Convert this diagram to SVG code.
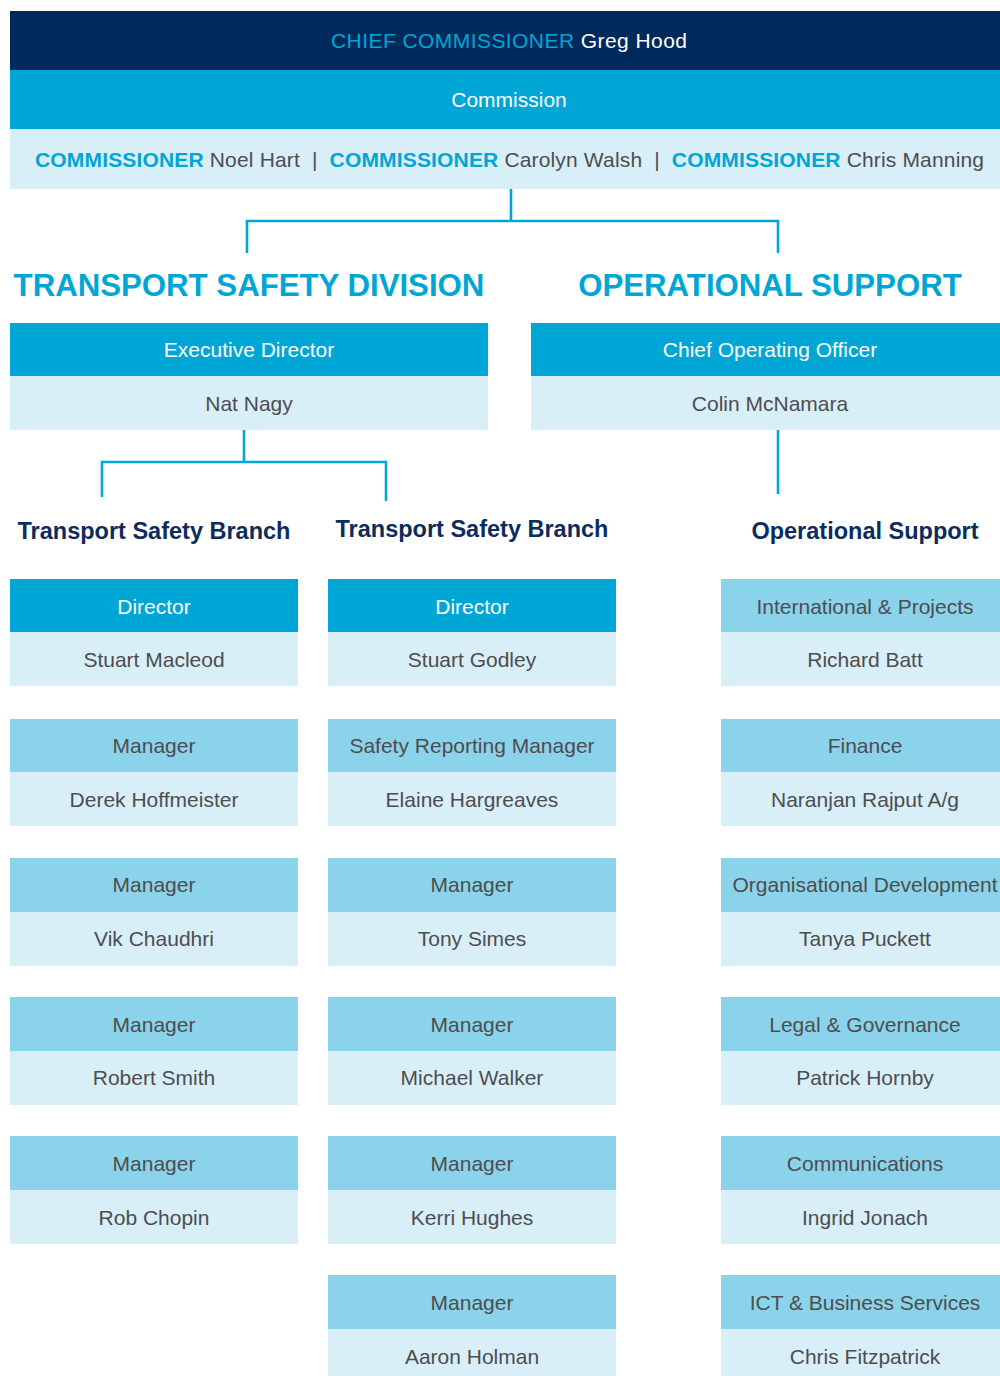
<svg xmlns="http://www.w3.org/2000/svg" width="1000" height="1376" viewBox="0 0 1000 1376">
  <style>
    text { font-family: "Liberation Sans", Arial, sans-serif; font-size: 21px; text-anchor: middle; }
    .navy { fill: #002A5C; }
    .cyan { fill: #00A6D6; }
    .mid { fill: #8BD3EA; }
    .pale { fill: #D9EFF8; }
    .w { fill: #FFFFFF; }
    .g { fill: #4D4D4F; }
    .c { fill: #00A6D6; }
    .b { font-weight: bold; }
    .h1 { font-size: 31.2px; font-weight: bold; fill: #00A6D6; }
    .h2 { font-size: 23.5px; font-weight: bold; fill: #0B2D5E; }
    .link { fill: none; stroke: #00A6D6; stroke-width: 2.6; }
  </style>

  <!-- Board -->
  <g id="chief-commissioner">
    <rect class="navy" x="10" y="11" width="990" height="59"/>
    <text x="331" y="48" style="text-anchor:start" textLength="356"><tspan class="c">CHIEF COMMISSIONER</tspan><tspan class="w"> Greg Hood</tspan></text>
  </g>
  <g id="commission">
    <rect class="cyan" x="10" y="70" width="990" height="59"/>
    <text class="w" x="509" y="107">Commission</text>
  </g>
  <g id="commissioners">
    <rect class="pale" x="10" y="129" width="990" height="60"/>
    <text x="35" y="167" style="text-anchor:start" textLength="949" xml:space="preserve"><tspan class="c b">COMMISSIONER</tspan><tspan class="g"> Noel Hart  |  </tspan><tspan class="c b">COMMISSIONER</tspan><tspan class="g"> Carolyn Walsh  |  </tspan><tspan class="c b">COMMISSIONER</tspan><tspan class="g"> Chris Manning</tspan></text>
  </g>

  <!-- Connectors -->
  <g id="connectors">
    <path class="link" d="M511,189 V221"/>
    <path class="link" d="M247,253 V221 H778 V253"/>
    <path class="link" d="M244,430 V462"/>
    <path class="link" d="M102,497 V462 H386 V501"/>
    <path class="link" d="M778,430 V494"/>
  </g>

  <!-- Divisions -->
  <g id="transport-safety-division">
    <text class="h1" x="249" y="296">TRANSPORT SAFETY DIVISION</text>
    <rect class="cyan" x="10" y="323" width="478" height="53"/>
    <text class="w" x="249" y="357">Executive Director</text>
    <rect class="pale" x="10" y="376" width="478" height="54"/>
    <text class="g" x="249" y="411">Nat Nagy</text>
  </g>
  <g id="operational-support">
    <text class="h1" x="770" y="296">OPERATIONAL SUPPORT</text>
    <rect class="cyan" x="531" y="323" width="469" height="53"/>
    <text class="w" x="770" y="357">Chief Operating Officer</text>
    <rect class="pale" x="531" y="376" width="469" height="54"/>
    <text class="g" x="770" y="411">Colin McNamara</text>
  </g>

  <!-- Branch headings -->
  <g id="branch-1-heading"><text class="h2" x="154" y="539">Transport Safety Branch</text></g>
  <g id="branch-2-heading"><text class="h2" x="472" y="537">Transport Safety Branch</text></g>
  <g id="ops-heading"><text class="h2" x="865" y="539">Operational Support</text></g>

  <!-- Branch 1 -->
  <g id="b1-director">
    <rect class="cyan" x="10" y="579" width="288" height="53"/>
    <text class="w" x="154" y="614">Director</text>
    <rect class="pale" x="10" y="632" width="288" height="54"/>
    <text class="g" x="154" y="667">Stuart Macleod</text>
  </g>
  <g id="b1-manager-1">
    <rect class="mid" x="10" y="719" width="288" height="53"/>
    <text class="g" x="154" y="753">Manager</text>
    <rect class="pale" x="10" y="772" width="288" height="54"/>
    <text class="g" x="154" y="807">Derek Hoffmeister</text>
  </g>
  <g id="b1-manager-2">
    <rect class="mid" x="10" y="858" width="288" height="54"/>
    <text class="g" x="154" y="892">Manager</text>
    <rect class="pale" x="10" y="912" width="288" height="54"/>
    <text class="g" x="154" y="946">Vik Chaudhri</text>
  </g>
  <g id="b1-manager-3">
    <rect class="mid" x="10" y="997" width="288" height="54"/>
    <text class="g" x="154" y="1032">Manager</text>
    <rect class="pale" x="10" y="1051" width="288" height="54"/>
    <text class="g" x="154" y="1085">Robert Smith</text>
  </g>
  <g id="b1-manager-4">
    <rect class="mid" x="10" y="1136" width="288" height="54"/>
    <text class="g" x="154" y="1171">Manager</text>
    <rect class="pale" x="10" y="1190" width="288" height="54"/>
    <text class="g" x="154" y="1225">Rob Chopin</text>
  </g>

  <!-- Branch 2 -->
  <g id="b2-director">
    <rect class="cyan" x="328" y="579" width="288" height="53"/>
    <text class="w" x="472" y="614">Director</text>
    <rect class="pale" x="328" y="632" width="288" height="54"/>
    <text class="g" x="472" y="667">Stuart Godley</text>
  </g>
  <g id="b2-safety-reporting">
    <rect class="mid" x="328" y="719" width="288" height="53"/>
    <text class="g" x="472" y="753">Safety Reporting Manager</text>
    <rect class="pale" x="328" y="772" width="288" height="54"/>
    <text class="g" x="472" y="807">Elaine Hargreaves</text>
  </g>
  <g id="b2-manager-1">
    <rect class="mid" x="328" y="858" width="288" height="54"/>
    <text class="g" x="472" y="892">Manager</text>
    <rect class="pale" x="328" y="912" width="288" height="54"/>
    <text class="g" x="472" y="946">Tony Simes</text>
  </g>
  <g id="b2-manager-2">
    <rect class="mid" x="328" y="997" width="288" height="54"/>
    <text class="g" x="472" y="1032">Manager</text>
    <rect class="pale" x="328" y="1051" width="288" height="54"/>
    <text class="g" x="472" y="1085">Michael Walker</text>
  </g>
  <g id="b2-manager-3">
    <rect class="mid" x="328" y="1136" width="288" height="54"/>
    <text class="g" x="472" y="1171">Manager</text>
    <rect class="pale" x="328" y="1190" width="288" height="54"/>
    <text class="g" x="472" y="1225">Kerri Hughes</text>
  </g>
  <g id="b2-manager-4">
    <rect class="mid" x="328" y="1275" width="288" height="54"/>
    <text class="g" x="472" y="1310">Manager</text>
    <rect class="pale" x="328" y="1329" width="288" height="47"/>
    <text class="g" x="472" y="1364">Aaron Holman</text>
  </g>

  <!-- Operational support units -->
  <g id="ops-international">
    <rect class="mid" x="721" y="579" width="279" height="53"/>
    <text class="g" x="865" y="614">International &amp; Projects</text>
    <rect class="pale" x="721" y="632" width="279" height="54"/>
    <text class="g" x="865" y="667">Richard Batt</text>
  </g>
  <g id="ops-finance">
    <rect class="mid" x="721" y="719" width="279" height="53"/>
    <text class="g" x="865" y="753">Finance</text>
    <rect class="pale" x="721" y="772" width="279" height="54"/>
    <text class="g" x="865" y="807">Naranjan Rajput A/g</text>
  </g>
  <g id="ops-org-development">
    <rect class="mid" x="721" y="858" width="279" height="54"/>
    <text class="g" x="865" y="892">Organisational Development</text>
    <rect class="pale" x="721" y="912" width="279" height="54"/>
    <text class="g" x="865" y="946">Tanya Puckett</text>
  </g>
  <g id="ops-legal">
    <rect class="mid" x="721" y="997" width="279" height="54"/>
    <text class="g" x="865" y="1032">Legal &amp; Governance</text>
    <rect class="pale" x="721" y="1051" width="279" height="54"/>
    <text class="g" x="865" y="1085">Patrick Hornby</text>
  </g>
  <g id="ops-communications">
    <rect class="mid" x="721" y="1136" width="279" height="54"/>
    <text class="g" x="865" y="1171">Communications</text>
    <rect class="pale" x="721" y="1190" width="279" height="54"/>
    <text class="g" x="865" y="1225">Ingrid Jonach</text>
  </g>
  <g id="ops-ict">
    <rect class="mid" x="721" y="1275" width="279" height="54"/>
    <text class="g" x="865" y="1310">ICT &amp; Business Services</text>
    <rect class="pale" x="721" y="1329" width="279" height="47"/>
    <text class="g" x="865" y="1364">Chris Fitzpatrick</text>
  </g>
</svg>
